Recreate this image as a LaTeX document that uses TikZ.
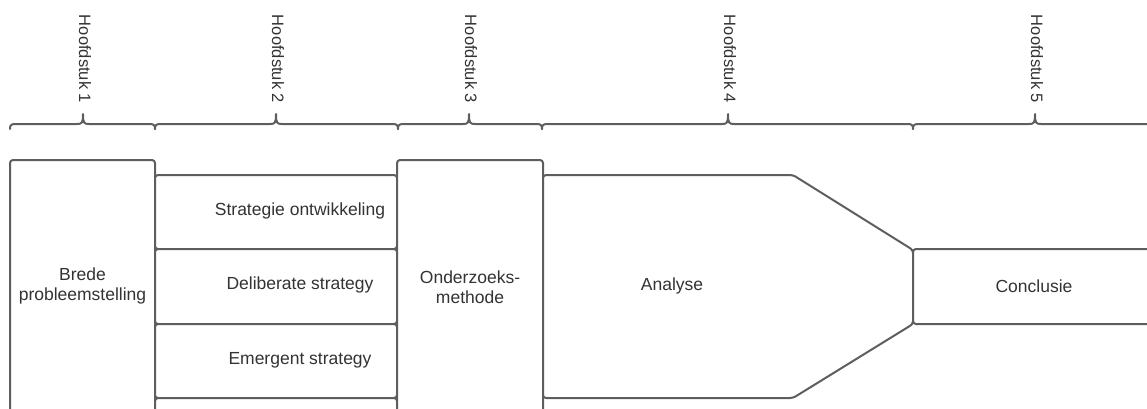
\documentclass[tikz,border=0pt]{standalone}
\usepackage{fontspec}
\setmainfont{Liberation Sans}
\usetikzlibrary{calc}
\definecolor{edge}{HTML}{5E5E5E}
\definecolor{ink}{HTML}{333333}
\newcommand\bracepiece[3]{(#1,129) .. controls (#1,125.5) and (#1+1,124) .. (#1+5,124) -- (#2-6,124) .. controls (#2-1,124) and (#2,123) .. (#2,114) .. controls (#2,123) and (#2+1,124) .. (#2+6,124) -- (#3-5,124) .. controls (#3-1,124) and (#3,125.5) .. (#3,129)}
\begin{document}
\begin{tikzpicture}[x=1pt,y=-1pt,
  box/.style={draw=edge,line width=2pt,rounded corners=3pt,fill=white,inner sep=0pt,
    font=\fontsize{17.5}{20}\selectfont,text=ink,align=center},
  txt/.style={font=\fontsize{17.5}{20}\selectfont,text=ink,inner sep=0pt,align=center},
  lbl/.style={rotate=-90,font=\fontsize{16.5}{20}\selectfont,text=ink,inner sep=0pt},
  brace/.style={draw=edge,line width=2pt,line cap=round,line join=round}]
\useasboundingbox (0,0) rectangle (1147,408);
\clip (0,0) rectangle (1147,408);

% braces
\draw[brace] \bracepiece{10}{83}{155};
\draw[brace] \bracepiece{155}{276}{398};
\draw[brace] \bracepiece{398}{469}{542};
\draw[brace] \bracepiece{542}{728}{913};
\draw[brace] \bracepiece{913}{1035}{1157};

% chapter labels
\node[lbl] (h1) at (85,59) {Hoofdstuk 1};
\node[lbl] (h2) at (278,59) {Hoofdstuk 2};
\node[lbl] (h3) at (471,59) {Hoofdstuk 3};
\node[lbl] (h4) at (730,59) {Hoofdstuk 4};
\node[lbl] (h5) at (1037,59) {Hoofdstuk 5};

% boxes
\node[box,minimum width=145,minimum height=252] (brede) at (82.5,286) {Brede\\probleemstelling};
\node[box,minimum width=242,minimum height=74] (s1) at (276,212) {};
\node[box,minimum width=242,minimum height=75] (s2) at (276,286.5) {};
\node[box,minimum width=242,minimum height=74] (s3) at (276,361) {};
\node[box,minimum width=242,minimum height=74] (s4) at (276,435) {};
\node[txt] (t1) at ($(s1.center)+(24,-1)$) {Strategie ontwikkeling};
\node[txt] (t2) at ($(s2.center)+(24,-1.5)$) {Deliberate strategy};
\node[txt] (t3) at ($(s3.center)+(24,-1)$) {Emergent strategy};
\node[box,minimum width=146,minimum height=254] (onder) at (470,287) {Onderzoeks-\\methode};

% analyse shape
\draw[draw=edge,line width=2pt,rounded corners=3pt,fill=white]
  (543,175) coordinate (a1) -- (793,175) coordinate (a2) -- (913,250) coordinate (a3)
  -- (913,324) coordinate (a4) -- (793,398) coordinate (a5) -- (543,398) coordinate (a6) -- cycle;
\node[txt] (analyse) at (672,286) {Analyse};

\node[box,minimum width=242,minimum height=75] (concl) at (1034,286.5) {Conclusie};
\end{tikzpicture}
\end{document}
